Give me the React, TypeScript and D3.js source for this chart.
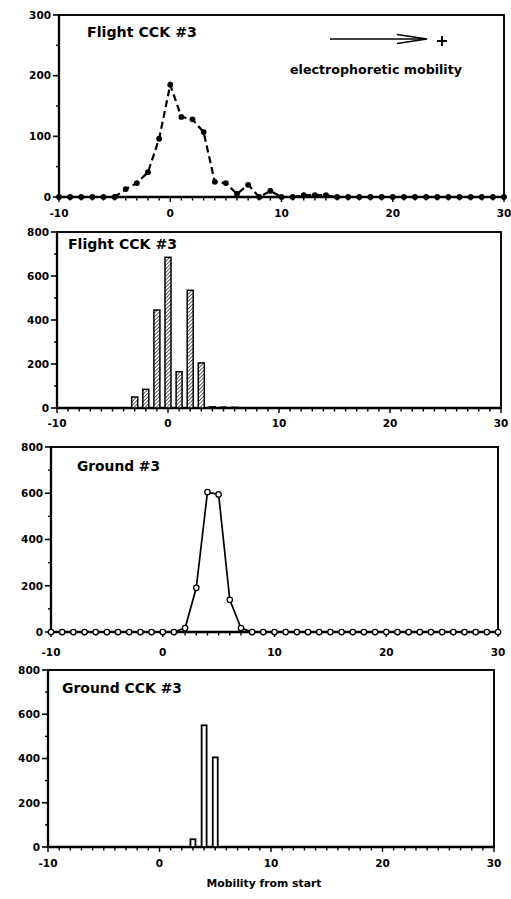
import React from 'react';
import * as d3 from 'd3';

// ---- data ----
const xPositions = [-10, -9, -8, -7, -6, -5, -4, -3, -2, -1, 0, 1, 2, 3, 4, 5, 6, 7, 8, 9, 10, 11, 12, 13, 14, 15, 16, 17, 18, 19, 20, 21, 22, 23, 24, 25, 26, 27, 28, 29, 30];
const flightLineValues = [0, 0, 0, 0, 0, 0, 13, 23, 41, 96, 185, 132, 128, 107, 25, 23, 5, 20, 0, 10, 0, 0, 3, 3, 3, 0, 0, 0, 0, 0, 0, 0, 0, 0, 0, 0, 0, 0, 0, 0, 0];
const flightBarX = [-3, -2, -1, 0, 1, 2, 3, 4, 5, 6];
const flightBarValues = [50, 85, 445, 685, 165, 535, 205, 5, 4, 3];
const groundLineValues = [0, 0, 0, 0, 0, 0, 0, 0, 0, 0, 0, 0, 17, 191, 605, 595, 139, 17, 0, 0, 0, 0, 0, 0, 0, 0, 0, 0, 0, 0, 0, 0, 0, 0, 0, 0, 0, 0, 0, 0, 0];
const groundBarX = [3, 4, 5];
const groundBarValues = [35, 550, 405];
const xTickLabels = [-10, 0, 10, 20, 30];
const yTicks300 = [0, 100, 200, 300];
const yTicks800 = [0, 200, 400, 600, 800];
const panelTitles = ['Flight CCK #3', 'Flight CCK #3', 'Ground #3', 'Ground CCK #3'];
const xAxisTitle = 'Mobility from start';
const annotationText = 'electrophoretic mobility';

const FONT = '"DejaVu Sans", "Liberation Sans", Arial, sans-serif';

type Cfg = { left: number; right: number; top: number; y0: number; yMax: number; labelY: number };

const cfgs: Cfg[] = [
  { left: 59, right: 504, top: 15, y0: 197, yMax: 300, labelY: 217 },
  { left: 57, right: 501, top: 232, y0: 408, yMax: 800, labelY: 427 },
  { left: 51, right: 498, top: 447, y0: 632, yMax: 800, labelY: 656 },
  { left: 48, right: 494, top: 670, y0: 847, yMax: 800, labelY: 867 },
];

function makeScales(c: Cfg) {
  const x = d3.scaleLinear().domain([-10, 30]).range([c.left, c.right]);
  const y = d3.scaleLinear().domain([0, c.yMax]).range([c.y0, c.top]);
  return { x, y };
}

function Frame({ c, yTicks, minorCount }: { c: Cfg; yTicks: number[]; minorCount: number }) {
  const { x, y } = makeScales(c);
  const minor = y.ticks(minorCount).filter((t) => !yTicks.includes(t));
  const xMinor = x.ticks(40);
  return (
    <g>
      <rect x={c.left} y={c.top} width={c.right - c.left} height={c.y0 - c.top} fill="none" stroke="#000" strokeWidth={1.9} />
      <line x1={c.left} x2={c.left} y1={c.top} y2={c.y0} stroke="#000" strokeWidth={2.3} />
      <line x1={c.left} x2={c.right} y1={c.y0} y2={c.y0} stroke="#000" strokeWidth={2.3} />
      {yTicks.map((t) => (
        <g key={'yt' + t}>
          <line x1={c.left - 6} x2={c.left} y1={y(t)} y2={y(t)} stroke="#000" strokeWidth={1.6} />
          <text x={c.left - 8} y={y(t)} dy="0.36em" textAnchor="end" fontFamily={FONT} fontWeight="bold" fontSize={10.5}>
            {t}
          </text>
        </g>
      ))}
      {minor.map((t) => (
        <line key={'ym' + t} x1={c.left - 3} x2={c.left} y1={y(t)} y2={y(t)} stroke="#000" strokeWidth={1.4} />
      ))}
      {xMinor.map((t) => (
        <line key={'xm' + t} x1={x(t)} x2={x(t)} y1={c.y0} y2={c.y0 + (t % 10 === 0 ? 5 : 3.5)} stroke="#000" strokeWidth={1.4} />
      ))}
      {xTickLabels.map((t) => (
        <text key={'xl' + t} x={x(t)} y={c.labelY} textAnchor="middle" fontFamily={FONT} fontWeight="bold" fontSize={10.5}>
          {t}
        </text>
      ))}
    </g>
  );
}

export default function App() {
  const s1 = makeScales(cfgs[0]);
  const s2 = makeScales(cfgs[1]);
  const s3 = makeScales(cfgs[2]);
  const s4 = makeScales(cfgs[3]);

  const line1 = d3
    .line<number>()
    .x((_, i) => s1.x(xPositions[i]))
    .y((d) => s1.y(d))(flightLineValues) as string;
  const line3 = d3
    .line<number>()
    .x((_, i) => s3.x(xPositions[i]))
    .y((d) => s3.y(d))(groundLineValues) as string;

  const barW2 = 6;
  const barW4 = 5;

  return (
    <svg width={511} height={899} style={{ position: 'absolute', left: 0, top: 0, background: '#fff' }}>
      <defs>
        <pattern id="hatch" patternUnits="userSpaceOnUse" width={2.6} height={2.6} patternTransform="rotate(45)">
          <rect width={2.6} height={2.6} fill="#fff" />
          <line x1={0} y1={0} x2={0} y2={2.6} stroke="#000" strokeWidth={1.2} />
        </pattern>
      </defs>
      <rect width={511} height={899} fill="#fff" />

      {/* Panel 1 */}
      <Frame c={cfgs[0]} yTicks={yTicks300} minorCount={6} />
      <path d={line1} fill="none" stroke="#000" strokeWidth={2.2} strokeDasharray="7,4" />
      {flightLineValues.map((v, i) => (
        <circle key={'p1' + i} cx={s1.x(xPositions[i])} cy={s1.y(v)} r={2.9} fill="#000" />
      ))}
      <text x={87} y={37} fontFamily={FONT} fontWeight="bold" fontSize={14} textLength={110} lengthAdjust="spacingAndGlyphs">
        {panelTitles[0]}
      </text>
      <line x1={330} x2={426} y1={39} y2={39} stroke="#000" strokeWidth={1.6} />
      <path d="M397,34.5 L427,39 L397,43.5" fill="none" stroke="#000" strokeWidth={1.6} />
      <line x1={437} x2={447} y1={41} y2={41} stroke="#000" strokeWidth={2} />
      <line x1={442} x2={442} y1={36} y2={46} stroke="#000" strokeWidth={2} />
      <text x={290} y={74} fontFamily={FONT} fontWeight="bold" fontSize={13} textLength={172} lengthAdjust="spacingAndGlyphs">
        {annotationText}
      </text>

      {/* Panel 2 */}
      <Frame c={cfgs[1]} yTicks={yTicks800} minorCount={8} />
      {flightBarX.map((xv, i) => (
        <rect
          key={'b2' + i}
          x={s2.x(xv) - barW2 / 2}
          y={s2.y(flightBarValues[i])}
          width={barW2}
          height={s2.y(0) - s2.y(flightBarValues[i])}
          fill="url(#hatch)"
          stroke="#000"
          strokeWidth={1.5}
        />
      ))}
      <text x={68} y={249} fontFamily={FONT} fontWeight="bold" fontSize={14} textLength={109} lengthAdjust="spacingAndGlyphs">
        {panelTitles[1]}
      </text>

      {/* Panel 3 */}
      <Frame c={cfgs[2]} yTicks={yTicks800} minorCount={8} />
      <path d={line3} fill="none" stroke="#000" strokeWidth={1.7} />
      {groundLineValues.map((v, i) => (
        <circle key={'p3' + i} cx={s3.x(xPositions[i])} cy={s3.y(v)} r={2.7} fill="#fff" stroke="#000" strokeWidth={1.3} />
      ))}
      <text x={77} y={471} fontFamily={FONT} fontWeight="bold" fontSize={14} textLength={83} lengthAdjust="spacingAndGlyphs">
        {panelTitles[2]}
      </text>

      {/* Panel 4 */}
      <Frame c={cfgs[3]} yTicks={yTicks800} minorCount={8} />
      {groundBarX.map((xv, i) => (
        <rect
          key={'b4' + i}
          x={s4.x(xv) - barW4 / 2}
          y={s4.y(groundBarValues[i])}
          width={barW4}
          height={s4.y(0) - s4.y(groundBarValues[i])}
          fill="#fff"
          stroke="#000"
          strokeWidth={1.8}
        />
      ))}
      <text x={62} y={693} fontFamily={FONT} fontWeight="bold" fontSize={14} textLength={120} lengthAdjust="spacingAndGlyphs">
        {panelTitles[3]}
      </text>
      <text x={264} y={887} textAnchor="middle" fontFamily={FONT} fontWeight="bold" fontSize={10.5} textLength={115} lengthAdjust="spacingAndGlyphs">
        {xAxisTitle}
      </text>
    </svg>
  );
}
